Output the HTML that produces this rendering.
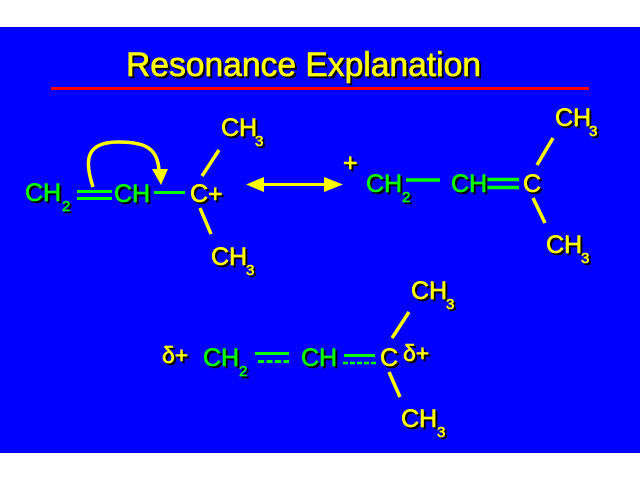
<!DOCTYPE html>
<html>
<head>
<meta charset="utf-8">
<style>
html,body{margin:0;padding:0;background:#fff;}
svg{display:block;}
text{font-family:"Liberation Sans",Arial,sans-serif;}
.y{fill:#ffff00;stroke:#ffff00;stroke-width:0.6px;}
.g{fill:#00ff00;stroke:#00ff00;stroke-width:0.6px;}
.m{font-size:25px;}
.s{font-size:15px;}
</style>
</head>
<body>
<svg width="640" height="480" viewBox="0 0 640 480" xmlns="http://www.w3.org/2000/svg">
<defs>
<filter id="sh" x="-20%" y="-20%" width="140%" height="140%">
<feDropShadow dx="2" dy="2" stdDeviation="0" flood-color="#000" flood-opacity="1"/>
</filter>
</defs>
<rect x="0" y="0" width="640" height="480" fill="#ffffff"/>
<rect x="0" y="27" width="640" height="426" fill="#0000ff"/>

<!-- Title -->
<g filter="url(#sh)">
<text x="126" y="76" class="y" font-size="34" textLength="355" lengthAdjust="spacingAndGlyphs">Resonance Explanation</text>
</g>
<rect x="51" y="87" width="538" height="3" fill="#ff0000"/>

<!-- Molecule 1 -->
<g stroke="#00ff00" stroke-width="3" fill="none">
<line x1="77" y1="191.5" x2="112" y2="191.5"/>
<line x1="77" y1="198.5" x2="112" y2="198.5"/>
<line x1="154" y1="192.5" x2="185" y2="192.5"/>
</g>
<g stroke="#ffff00" stroke-width="3.5" fill="none" stroke-linecap="butt">
<line x1="202" y1="176" x2="219" y2="150"/>
<line x1="200" y1="208" x2="211" y2="234"/>
<path d="M93,187 C84,160 86,142 118,142 C145,142 158,148 159,171"/>
</g>
<polygon points="152,169 168,169 161,185" fill="#ffff00"/>
<g filter="url(#sh)">
<text x="25" y="201" class="g m">CH</text>
<text x="62" y="211" class="g s">2</text>
<text x="114" y="202" class="g m">CH</text>
<text x="190" y="202" class="y m">C+</text>
<text x="221" y="136" class="y m">CH</text>
<text x="255" y="146" class="y s">3</text>
<text x="211" y="265" class="y m">CH</text>
<text x="246" y="275" class="y s">3</text>
</g>

<!-- Double arrow -->
<line x1="262" y1="184.5" x2="326" y2="184.5" stroke="#ffff00" stroke-width="3"/>
<polygon points="246,184.5 264,177 264,192" fill="#ffff00"/>
<polygon points="343,184.5 324,177 324,192" fill="#ffff00"/>

<!-- Molecule 2 -->
<g stroke="#00ff00" stroke-width="3.5" fill="none">
<line x1="406" y1="180" x2="440" y2="180"/>
<line x1="487" y1="179.5" x2="519" y2="179.5"/>
<line x1="487" y1="187.5" x2="519" y2="187.5"/>
</g>
<g stroke="#ffff00" stroke-width="3.5" fill="none">
<line x1="537" y1="165" x2="553" y2="138"/>
<line x1="533" y1="198" x2="545" y2="223"/>
</g>
<g filter="url(#sh)">
<text x="343" y="171" class="y m">+</text>
<text x="366" y="192" class="g m">CH</text>
<text x="402" y="202" class="g s">2</text>
<text x="451" y="192" class="g m">CH</text>
<text x="523" y="192" class="y m">C</text>
<text x="555" y="126" class="y m">CH</text>
<text x="589" y="136" class="y s">3</text>
<text x="546" y="253" class="y m">CH</text>
<text x="581" y="263" class="y s">3</text>
</g>

<!-- Molecule 3 -->
<g stroke="#00ff00" fill="none">
<line x1="255" y1="353.5" x2="289" y2="353.5" stroke-width="3"/>
<line x1="258" y1="361.5" x2="289" y2="361.5" stroke-width="3" stroke-dasharray="6 2.5"/>
<line x1="344" y1="355.5" x2="375" y2="355.5" stroke-width="3"/>
<line x1="343" y1="363" x2="376" y2="363" stroke-width="2.5" stroke-dasharray="5 2"/>
</g>
<g stroke="#ffff00" stroke-width="3.5" fill="none">
<line x1="392" y1="338" x2="409" y2="312"/>
<line x1="389" y1="372" x2="400" y2="397"/>
</g>
<g filter="url(#sh)">
<text x="162" y="363" class="y" font-size="23">δ+</text>
<text x="203" y="366" class="g m">CH</text>
<text x="239" y="376" class="g s">2</text>
<text x="301" y="366" class="g m">CH</text>
<text x="380" y="366" class="y m">C</text>
<text x="403" y="361" class="y" font-size="23">δ+</text>
<text x="411" y="299" class="y m">CH</text>
<text x="446" y="309" class="y s">3</text>
<text x="401" y="427" class="y m">CH</text>
<text x="437" y="437" class="y s">3</text>
</g>
</svg>
</body>
</html>
